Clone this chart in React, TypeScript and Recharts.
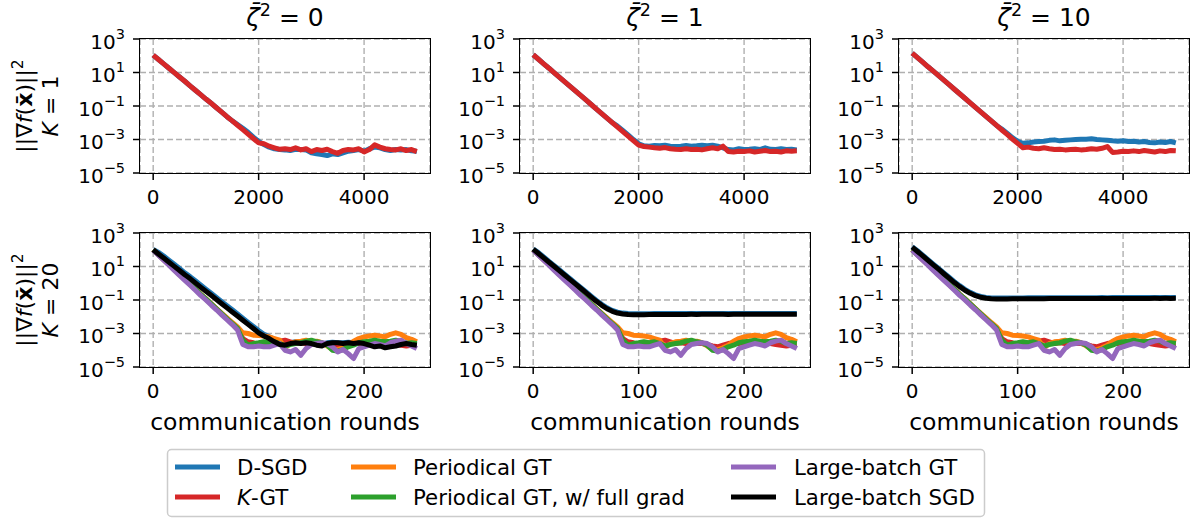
import React from 'react';
import { LineChart, Line, XAxis, YAxis, CartesianGrid } from 'recharts';

// ---------- categories / ticks ----------
const TOP_ROUNDS = [0, 100, 200, 300, 400, 500, 600, 700, 800, 900, 1000, 1100, 1200, 1300, 1400, 1500, 1600, 1700, 1800, 1900, 2000, 2100, 2200, 2300, 2400, 2500, 2600, 2700, 2800, 2900, 3000, 3100, 3200, 3300, 3400, 3500, 3600, 3700, 3800, 3900, 4000, 4100, 4200, 4300, 4400, 4500, 4600, 4700, 4800, 4900, 5000];
const BOTTOM_ROUNDS = [0, 5, 10, 15, 20, 25, 30, 35, 40, 45, 50, 55, 60, 65, 70, 75, 80, 85, 90, 95, 100, 105, 110, 115, 120, 125, 130, 135, 140, 145, 150, 155, 160, 165, 170, 175, 180, 185, 190, 195, 200, 205, 210, 215, 220, 225, 230, 235, 240, 245, 250];
const TOP_X_TICKS = [0, 2000, 4000];
const BOTTOM_X_TICKS = [0, 100, 200];
const Y_TICKS = [1e-5, 1e-3, 1e-1, 1e1, 1e3];
const ZETA_VALUES = ['0', '1', '10'];
const K_VALUES = ['1', '20'];

// ---------- top row (K = 1) ----------
const top_z0_dsgd = [110, 60, 33, 18, 9.8, 5.4, 3.0, 1.6, 0.87, 0.48, 0.26, 0.145, 0.079, 0.043, 0.023, 0.013, 0.0079, 0.0047, 0.0027, 0.0014, 7.6e-4, 5.0e-4, 3.5e-4, 2.8e-4, 2.5e-4, 2.4e-4, 2.2e-4, 2.6e-4, 2.5e-4, 2.4e-4, 1.6e-4, 1.4e-4, 1.26e-4, 1.1e-4, 1.4e-4, 1.26e-4, 1.6e-4, 2.0e-4, 2.2e-4, 2.5e-4, 2.0e-4, 2.8e-4, 3.5e-4, 3.2e-4, 2.5e-4, 2.2e-4, 2.5e-4, 2.4e-4, 2.5e-4, 2.1e-4, 2.0e-4];
const top_z0_kgt = [110, 60, 33, 18, 9.8, 5.4, 3.0, 1.6, 0.87, 0.48, 0.26, 0.145, 0.079, 0.043, 0.023, 0.013, 0.0071, 0.0039, 0.0021, 0.00115, 6.3e-4, 5.6e-4, 4.0e-4, 3.2e-4, 2.6e-4, 2.8e-4, 2.5e-4, 3.2e-4, 2.4e-4, 2.8e-4, 1.9e-4, 2.5e-4, 2.2e-4, 2.6e-4, 1.9e-4, 1.5e-4, 2.2e-4, 2.5e-4, 2.4e-4, 2.8e-4, 1.8e-4, 2.5e-4, 4.8e-4, 3.5e-4, 2.8e-4, 2.5e-4, 2.4e-4, 2.8e-4, 2.2e-4, 2.5e-4, 1.9e-4];
const top_z1_dsgd = [115, 62, 33, 18, 9.5, 5.1, 2.75, 1.48, 0.79, 0.43, 0.23, 0.123, 0.066, 0.035, 0.019, 0.0102, 0.0063, 0.0035, 0.0019, 0.001, 5.6e-4, 4.2e-4, 4.0e-4, 4.4e-4, 4.2e-4, 4.6e-4, 4.0e-4, 3.8e-4, 4.0e-4, 4.4e-4, 4.0e-4, 4.2e-4, 4.5e-4, 4.2e-4, 4.6e-4, 4.0e-4, 3.2e-4, 2.5e-4, 2.4e-4, 2.8e-4, 2.5e-4, 2.6e-4, 2.8e-4, 2.5e-4, 3.2e-4, 2.6e-4, 2.5e-4, 2.8e-4, 2.5e-4, 2.6e-4, 2.4e-4];
const top_z1_kgt = [115, 62, 33, 18, 9.5, 5.1, 2.75, 1.48, 0.79, 0.43, 0.23, 0.123, 0.066, 0.035, 0.019, 0.0102, 0.0055, 0.00295, 0.0016, 8.5e-4, 4.6e-4, 3.8e-4, 3.5e-4, 3.2e-4, 3.0e-4, 3.3e-4, 2.8e-4, 2.6e-4, 2.5e-4, 2.8e-4, 2.5e-4, 2.6e-4, 2.4e-4, 2.8e-4, 3.2e-4, 2.8e-4, 4.0e-4, 1.9e-4, 1.8e-4, 2.0e-4, 1.9e-4, 2.1e-4, 1.8e-4, 2.0e-4, 2.2e-4, 1.9e-4, 2.0e-4, 1.8e-4, 2.1e-4, 2.0e-4, 2.1e-4];
const top_z10_dsgd = [145, 78, 42, 22, 12, 6.5, 3.5, 1.86, 1.0, 0.54, 0.29, 0.155, 0.083, 0.045, 0.024, 0.0129, 0.0069, 0.0042, 0.0024, 0.0013, 7.9e-4, 6.0e-4, 6.3e-4, 7.1e-4, 7.6e-4, 7.9e-4, 8.9e-4, 9.5e-4, 8.3e-4, 8.9e-4, 9.5e-4, 1.0e-3, 1.05e-3, 1.05e-3, 1.1e-3, 1.0e-3, 9.5e-4, 8.9e-4, 8.3e-4, 7.9e-4, 8.3e-4, 7.6e-4, 7.9e-4, 7.1e-4, 7.6e-4, 6.6e-4, 6.3e-4, 7.1e-4, 6.6e-4, 7.6e-4, 6.3e-4];
const top_z10_kgt = [145, 78, 42, 22, 12, 6.5, 3.5, 1.86, 1.0, 0.54, 0.29, 0.155, 0.083, 0.045, 0.024, 0.0129, 0.0069, 0.0037, 0.002, 0.00107, 5.8e-4, 3.2e-4, 3.5e-4, 3.0e-4, 2.8e-4, 3.2e-4, 2.8e-4, 2.5e-4, 2.6e-4, 2.4e-4, 2.5e-4, 2.6e-4, 2.4e-4, 2.5e-4, 2.8e-4, 2.6e-4, 3.0e-4, 3.8e-4, 1.7e-4, 1.8e-4, 2.0e-4, 1.9e-4, 2.1e-4, 1.9e-4, 2.2e-4, 2.0e-4, 1.8e-4, 2.1e-4, 1.9e-4, 2.2e-4, 2.1e-4];

// ---------- bottom row (K = 20) ----------
const bot_z0_dsgd = [105, 70, 42, 24, 13.5, 7.6, 4.2, 2.5, 1.4, 0.78, 0.44, 0.25, 0.14, 0.079, 0.045, 0.026, 0.0145, 0.0082, 0.0046, 0.0026, 0.0015, 9.0e-4, 6.3e-4, 4.5e-4, 3.5e-4, 2.8e-4, 2.8e-4, 3.2e-4, 2.8e-4, 3.0e-4, 2.8e-4, 2.5e-4, 2.2e-4, 2.8e-4, 3.0e-4, 2.8e-4, 2.8e-4, 3.0e-4, 2.8e-4, 2.5e-4, 2.8e-4, 2.2e-4, 2.0e-4, 2.0e-4, 1.8e-4, 1.8e-4, 2.0e-4, 2.5e-4, 2.8e-4, 2.5e-4, 2.2e-4];
const bot_z0_lbsgd = [100, 56, 32, 18, 10.2, 5.8, 3.2, 1.9, 1.05, 0.59, 0.33, 0.19, 0.107, 0.06, 0.034, 0.0195, 0.011, 0.0062, 0.0035, 0.002, 0.0011, 7.1e-4, 5.0e-4, 3.2e-4, 2.2e-4, 2.0e-4, 2.5e-4, 2.8e-4, 2.5e-4, 2.8e-4, 2.5e-4, 2.0e-4, 1.8e-4, 2.5e-4, 2.8e-4, 2.8e-4, 2.5e-4, 2.8e-4, 2.5e-4, 2.8e-4, 2.5e-4, 2.0e-4, 1.6e-4, 1.8e-4, 1.4e-4, 1.6e-4, 1.8e-4, 2.2e-4, 2.5e-4, 2.2e-4, 2.0e-4];
const bot_z1_dsgd = [112, 67, 37, 20, 11.2, 6.2, 3.4, 1.9, 1.02, 0.56, 0.31, 0.17, 0.095, 0.055, 0.034, 0.024, 0.019, 0.0165, 0.0155, 0.0152, 0.0152, 0.0153, 0.0152, 0.0154, 0.0155, 0.0154, 0.0155, 0.0156, 0.0155, 0.0156, 0.0157, 0.0156, 0.0157, 0.0158, 0.0157, 0.0158, 0.0157, 0.0156, 0.0157, 0.0158, 0.0159, 0.0158, 0.0157, 0.0158, 0.0159, 0.0158, 0.0157, 0.0158, 0.0159, 0.0158, 0.0159];
const bot_z1_lbsgd = [110, 60, 33, 18, 10, 5.5, 3.0, 1.66, 0.91, 0.5, 0.275, 0.15, 0.083, 0.048, 0.03, 0.021, 0.0166, 0.0145, 0.0135, 0.0133, 0.0132, 0.0133, 0.0134, 0.0135, 0.0136, 0.0135, 0.0137, 0.0138, 0.0137, 0.0138, 0.0139, 0.0138, 0.0139, 0.014, 0.0139, 0.014, 0.0139, 0.0138, 0.0139, 0.014, 0.0141, 0.014, 0.0139, 0.014, 0.0141, 0.014, 0.0139, 0.014, 0.0141, 0.014, 0.0141];
const bot_z10_dsgd = [150, 88, 48, 26, 14, 7.7, 4.2, 2.3, 1.25, 0.72, 0.43, 0.285, 0.205, 0.165, 0.142, 0.133, 0.13, 0.13, 0.131, 0.132, 0.133, 0.133, 0.134, 0.134, 0.135, 0.135, 0.136, 0.136, 0.137, 0.136, 0.137, 0.137, 0.138, 0.137, 0.138, 0.138, 0.139, 0.138, 0.139, 0.139, 0.14, 0.139, 0.14, 0.14, 0.139, 0.14, 0.141, 0.14, 0.141, 0.14, 0.141];
const bot_z10_lbsgd = [145, 79, 43, 23, 12.6, 6.9, 3.7, 2.0, 1.1, 0.63, 0.38, 0.25, 0.18, 0.145, 0.126, 0.117, 0.115, 0.115, 0.116, 0.117, 0.118, 0.118, 0.119, 0.119, 0.12, 0.12, 0.121, 0.121, 0.122, 0.121, 0.122, 0.122, 0.123, 0.122, 0.123, 0.123, 0.124, 0.123, 0.124, 0.124, 0.125, 0.124, 0.125, 0.125, 0.124, 0.125, 0.126, 0.125, 0.126, 0.125, 0.126];
// gradient-tracking methods: the same runs in every K = 20 panel
const bot_kgt = [100, 51, 26, 13, 6.6, 3.4, 1.7, 0.87, 0.45, 0.22, 0.115, 0.059, 0.03, 0.015, 0.0076, 0.0039, 0.0019, 5.0e-4, 3.2e-4, 2.8e-4, 2.2e-4, 2.0e-4, 2.5e-4, 2.8e-4, 3.5e-4, 4.0e-4, 3.2e-4, 2.5e-4, 2.8e-4, 2.5e-4, 2.8e-4, 2.5e-4, 2.5e-4, 2.2e-4, 1.8e-4, 1.6e-4, 2.0e-4, 2.5e-4, 2.8e-4, 2.5e-4, 2.8e-4, 2.8e-4, 3.2e-4, 2.8e-4, 3.2e-4, 2.5e-4, 2.2e-4, 2.0e-4, 1.8e-4, 2.0e-4, 2.2e-4];
const bot_pgt = [100, 51, 26, 13, 6.6, 3.4, 1.7, 0.87, 0.45, 0.22, 0.115, 0.059, 0.031, 0.016, 0.0085, 0.0045, 0.0025, 1.1e-3, 1.0e-3, 7.9e-4, 7.6e-4, 7.1e-4, 6.3e-4, 5.0e-4, 4.0e-4, 1.4e-4, 2.5e-4, 3.2e-4, 3.5e-4, 4.0e-4, 3.2e-4, 3.5e-4, 2.8e-4, 1.8e-4, 1.1e-4, 1.1e-4, 1.4e-4, 2.0e-4, 3.5e-4, 5.0e-4, 6.3e-4, 7.1e-4, 7.9e-4, 7.1e-4, 6.3e-4, 8.9e-4, 1.1e-3, 8.9e-4, 5.6e-4, 4.5e-4, 3.2e-4];
const bot_pgt_full = [100, 51, 26, 13, 6.6, 3.4, 1.7, 0.87, 0.45, 0.22, 0.115, 0.059, 0.03, 0.015, 0.0076, 0.0039, 0.002, 4.0e-4, 2.0e-4, 2.5e-4, 2.8e-4, 3.2e-4, 2.8e-4, 3.2e-4, 2.5e-4, 1.8e-4, 2.2e-4, 2.5e-4, 2.8e-4, 3.5e-4, 4.0e-4, 3.2e-4, 2.8e-4, 2.0e-4, 1.0e-4, 8.9e-5, 1.1e-4, 1.6e-4, 2.0e-4, 2.8e-4, 3.2e-4, 3.5e-4, 4.0e-4, 3.5e-4, 3.2e-4, 3.5e-4, 4.0e-4, 3.5e-4, 2.5e-4, 2.8e-4, 2.5e-4];
const bot_lbgt = [95, 48, 24, 12, 5.8, 2.9, 1.5, 0.76, 0.38, 0.19, 0.1, 0.05, 0.026, 0.013, 0.0066, 0.0034, 0.0016, 2.2e-4, 1.6e-4, 1.6e-4, 1.8e-4, 1.6e-4, 1.6e-4, 2.0e-4, 2.5e-4, 1.0e-4, 7.9e-5, 1.1e-4, 5.0e-5, 1.26e-4, 2.2e-4, 2.5e-4, 2.8e-4, 2.5e-4, 1.6e-4, 7.9e-5, 1.1e-4, 6.3e-5, 3.2e-5, 1.26e-4, 1.6e-4, 2.0e-4, 2.5e-4, 2.2e-4, 1.8e-4, 2.8e-4, 3.5e-4, 4.0e-4, 2.5e-4, 1.8e-4, 1.26e-4];

// ---------- styling ----------
const FONT = '"DejaVu Sans", Verdana, sans-serif';
const C_BLUE = '#1f77b4';
const C_RED = '#d62728';
const C_ORANGE = '#ff7f0e';
const C_GREEN = '#2ca02c';
const C_PURPLE = '#9467bd';
const C_BLACK = '#000000';

const LEGEND_ITEMS = [
  { label: 'D-SGD', color: C_BLUE },
  { label: 'K-GT', color: C_RED },
  { label: 'Periodical GT', color: C_ORANGE },
  { label: 'Periodical GT, w/ full grad', color: C_GREEN },
  { label: 'Large-batch GT', color: C_PURPLE },
  { label: 'Large-batch SGD', color: C_BLACK },
];

const PLOT_W = 290;
const PLOT_H = 134;
const Y_AXIS_W = 70;
const MT = 22;
const MR = 10;
const X_AXIS_H = 40;
const COL_LEFT = [140, 520, 899];
const ROW_TOP = [39, 233];
const LINE_W = 5;

type Series = { key: string; color: string; values: number[] };

const topSeries = (d: number[], k: number[]): Series[] => [
  { key: 'dsgd', color: C_BLUE, values: d },
  { key: 'kgt', color: C_RED, values: k },
];
const bottomSeries = (d: number[], lb: number[]): Series[] => [
  { key: 'dsgd', color: C_BLUE, values: d },
  { key: 'kgt', color: C_RED, values: bot_kgt },
  { key: 'pgt', color: C_ORANGE, values: bot_pgt },
  { key: 'pgtfull', color: C_GREEN, values: bot_pgt_full },
  { key: 'lbgt', color: C_PURPLE, values: bot_lbgt },
  { key: 'lbsgd', color: C_BLACK, values: lb },
];

const PANELS = [
  { row: 0, col: 0, rounds: TOP_ROUNDS, domain: [-250, 5250], ticks: TOP_X_TICKS, series: topSeries(top_z0_dsgd, top_z0_kgt) },
  { row: 0, col: 1, rounds: TOP_ROUNDS, domain: [-250, 5250], ticks: TOP_X_TICKS, series: topSeries(top_z1_dsgd, top_z1_kgt) },
  { row: 0, col: 2, rounds: TOP_ROUNDS, domain: [-250, 5250], ticks: TOP_X_TICKS, series: topSeries(top_z10_dsgd, top_z10_kgt) },
  { row: 1, col: 0, rounds: BOTTOM_ROUNDS, domain: [-12.5, 262.5], ticks: BOTTOM_X_TICKS, series: bottomSeries(bot_z0_dsgd, bot_z0_lbsgd) },
  { row: 1, col: 1, rounds: BOTTOM_ROUNDS, domain: [-12.5, 262.5], ticks: BOTTOM_X_TICKS, series: bottomSeries(bot_z1_dsgd, bot_z1_lbsgd) },
  { row: 1, col: 2, rounds: BOTTOM_ROUNDS, domain: [-12.5, 262.5], ticks: BOTTOM_X_TICKS, series: bottomSeries(bot_z10_dsgd, bot_z10_lbsgd) },
];

const XTick = (props: any) => {
  const { x, y, payload } = props;
  return (
    <text x={x} y={y + 17} textAnchor="middle" fontFamily={FONT} fontSize={20} fill="#000">
      {payload.value}
    </text>
  );
};

const YTick = (props: any) => {
  const { x, y, payload } = props;
  const e = Math.round(Math.log10(payload.value));
  const es = e < 0 ? '\u2212' + Math.abs(e) : String(e);
  return (
    <text x={x - 1} y={y + 9.5} textAnchor="end" fontFamily={FONT} fontSize={20} fill="#000">
      10<tspan dy={-10} fontSize={14.5}>{es}</tspan>
    </text>
  );
};

function Panel({ p }: { p: any }) {
  const left = COL_LEFT[p.col];
  const top = ROW_TOP[p.row];
  const rows = p.rounds.map((r: number, i: number) => {
    const o: any = { round: r };
    p.series.forEach((s: Series) => { o[s.key] = s.values[i]; });
    return o;
  });
  return (
    <div style={{ position: 'absolute', left: left - Y_AXIS_W, top: top - MT }}>
      <LineChart
        width={Y_AXIS_W + PLOT_W + MR}
        height={MT + PLOT_H + X_AXIS_H}
        data={rows}
        margin={{ top: MT, right: MR, bottom: 0, left: 0 }}
        style={{ overflow: 'visible' }}
      >
        <CartesianGrid stroke="#b0b0b0" strokeDasharray="6 3" strokeWidth={1.4} />
        <XAxis
          dataKey="round"
          type="number"
          domain={p.domain}
          ticks={p.ticks}
          allowDataOverflow
          interval={0}
          height={X_AXIS_H}
          axisLine={false}
          tickLine={{ stroke: '#000', strokeWidth: 1.5 }}
          tickSize={7}
          tickMargin={7}
          tick={XTick}
        />
        <YAxis
          type="number"
          scale="log"
          domain={[1e-5, 1e3]}
          ticks={Y_TICKS}
          allowDataOverflow
          interval={0}
          width={Y_AXIS_W}
          axisLine={false}
          tickLine={{ stroke: '#000', strokeWidth: 1.5 }}
          tickSize={7}
          tickMargin={7}
          tick={YTick}
        />
        {p.series.map((s: Series) => (
          <Line
            key={s.key}
            dataKey={s.key}
            type="linear"
            stroke={s.color}
            strokeWidth={LINE_W}
            strokeLinejoin="round"
            dot={false}
            activeDot={false}
            isAnimationActive={false}
          />
        ))}
      </LineChart>
      <div
        style={{
          position: 'absolute',
          left: Y_AXIS_W - 0.75,
          top: MT - 0.75,
          width: PLOT_W + 1.5,
          height: PLOT_H + 1.5,
          border: '1.5px solid #000',
          boxSizing: 'border-box',
          pointerEvents: 'none',
        }}
      />
    </div>
  );
}

function Overlay() {
  const legendCols = [
    { lx: 175, tx: 237 },
    { lx: 351, tx: 413 },
    { lx: 731, tx: 794 },
  ];
  const legendRows = [467, 497];
  return (
    <svg
      width={1198}
      height={525}
      style={{ position: 'absolute', left: 0, top: 0, pointerEvents: 'none' }}
      fontFamily={FONT}
    >
      {ZETA_VALUES.map((z, i) => (
        <text key={'t' + i} x={COL_LEFT[i] + PLOT_W / 2} y={26} textAnchor="middle" fontSize={25} fill="#000">
          <tspan fontStyle="italic">{'\u03B6\u0304'}</tspan>
          <tspan dy={-10} fontSize={17.5}>2</tspan>
          <tspan dy={10}>{' = ' + z}</tspan>
        </text>
      ))}
      {K_VALUES.map((k, i) => {
        const cy = ROW_TOP[i] + PLOT_H / 2;
        return (
          <g key={'y' + i}>
            <text transform={`translate(32, ${cy}) rotate(-90)`} textAnchor="middle" fontSize={22} fill="#000">
              {'||\u2207'}
              <tspan fontStyle="italic">f</tspan>
              {'('}
              <tspan fontWeight="bold">{'x\u0304'}</tspan>
              {')||'}
              <tspan dy={-9} fontSize={15.5}>2</tspan>
            </text>
            <text transform={`translate(58, ${cy}) rotate(-90)`} textAnchor="middle" fontSize={22} fill="#000">
              <tspan fontStyle="italic">K</tspan>
              {' = ' + k}
            </text>
          </g>
        );
      })}
      {COL_LEFT.map((l, i) => (
        <text key={'x' + i} x={l + PLOT_W / 2} y={430} textAnchor="middle" fontSize={23.5} fill="#000">
          communication rounds
        </text>
      ))}
      <rect x={167.5} y={449.5} width={817} height={67} rx={4} fill="#fff" stroke="#cccccc" strokeWidth={1.5} />
      {LEGEND_ITEMS.map((it, i) => {
        const col = legendCols[Math.floor(i / 2)];
        const y = legendRows[i % 2];
        return (
          <g key={'l' + i}>
            <line x1={col.lx} x2={col.lx + 45} y1={y} y2={y} stroke={it.color} strokeWidth={LINE_W} />
            <text x={col.tx} y={y + 7.5} fontSize={21.3} fill="#000">
              {it.label === 'K-GT' ? (
                <>
                  <tspan fontStyle="italic">K</tspan>-GT
                </>
              ) : (
                it.label
              )}
            </text>
          </g>
        );
      })}
    </svg>
  );
}

export default function App() {
  return (
    <div style={{ position: 'absolute', left: 0, top: 0, width: 1198, height: 525, background: '#fff', fontFamily: FONT }}>
      {PANELS.map((p, i) => (
        <Panel key={i} p={p} />
      ))}
      <Overlay />
    </div>
  );
}
